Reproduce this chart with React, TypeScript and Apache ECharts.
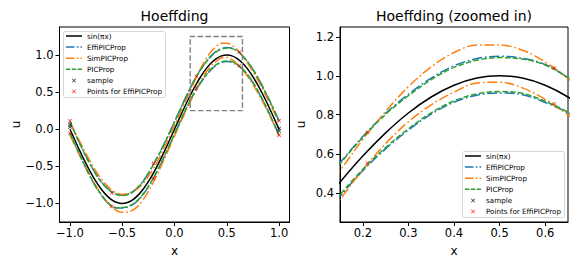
import React, { useEffect, useRef } from 'react';
import * as echarts from 'echarts';

// x grid shared by all curves
const xs = [
  -1.0, -0.95, -0.9, -0.85, -0.8, -0.75, -0.7, -0.65, -0.6, -0.55, -0.5,
  -0.45, -0.4, -0.35, -0.3, -0.25, -0.2, -0.15, -0.1, -0.05, 0.0,
  0.05, 0.1, 0.15, 0.2, 0.25, 0.3, 0.35, 0.4, 0.45, 0.5,
  0.55, 0.6, 0.65, 0.7, 0.75, 0.8, 0.85, 0.9, 0.95, 1.0,
];

const sinVals = [
  0.0, -0.156, -0.309, -0.454, -0.588, -0.707, -0.809, -0.891, -0.951, -0.988, -1.0,
  -0.988, -0.951, -0.891, -0.809, -0.707, -0.588, -0.454, -0.309, -0.156, 0.0,
  0.156, 0.309, 0.454, 0.588, 0.707, 0.809, 0.891, 0.951, 0.988, 1.0,
  0.988, 0.951, 0.891, 0.809, 0.707, 0.588, 0.454, 0.309, 0.156, 0.0,
];

const effiUpper = [
  0.105, -0.056, -0.209, -0.354, -0.488, -0.607, -0.709, -0.786, -0.841, -0.878, -0.888,
  -0.878, -0.841, -0.781, -0.699, -0.592, -0.468, -0.339, -0.199, -0.051, 0.1,
  0.256, 0.409, 0.554, 0.688, 0.807, 0.905, 0.988, 1.051, 1.088, 1.1,
  1.09, 1.058, 0.991, 0.909, 0.807, 0.688, 0.554, 0.414, 0.266, 0.115,
];

const effiLower = [
  -0.06, -0.216, -0.371, -0.519, -0.658, -0.782, -0.889, -0.976, -1.041, -1.063, -1.06,
  -1.048, -1.016, -0.961, -0.879, -0.777, -0.658, -0.524, -0.379, -0.226, -0.07,
  0.086, 0.239, 0.382, 0.513, 0.625, 0.721, 0.803, 0.864, 0.9, 0.912,
  0.903, 0.863, 0.809, 0.729, 0.627, 0.508, 0.374, 0.229, 0.076, -0.08,
];

const simUpper = [
  0.09, -0.046, -0.184, -0.319, -0.448, -0.567, -0.669, -0.756, -0.821, -0.863, -0.88,
  -0.868, -0.841, -0.796, -0.729, -0.637, -0.528, -0.399, -0.259, -0.106, 0.05,
  0.206, 0.364, 0.514, 0.673, 0.817, 0.944, 1.046, 1.119, 1.158, 1.158,
  1.131, 1.071, 0.986, 0.889, 0.777, 0.653, 0.519, 0.379, 0.236, 0.09,
];

const simLower = [
  -0.08, -0.226, -0.369, -0.509, -0.643, -0.767, -0.879, -0.971, -1.046, -1.098, -1.12,
  -1.116, -1.091, -1.036, -0.949, -0.837, -0.708, -0.564, -0.409, -0.251, -0.09,
  0.066, 0.219, 0.366, 0.518, 0.652, 0.764, 0.851, 0.916, 0.963, 0.967,
  0.938, 0.879, 0.799, 0.709, 0.602, 0.483, 0.354, 0.214, 0.066, -0.09,
];

const picUpper = [
  0.1, -0.06, -0.213, -0.358, -0.492, -0.611, -0.713, -0.79, -0.846, -0.883, -0.893,
  -0.883, -0.846, -0.786, -0.704, -0.597, -0.473, -0.344, -0.204, -0.056, 0.095,
  0.251, 0.404, 0.549, 0.684, 0.802, 0.898, 0.98, 1.043, 1.08, 1.093,
  1.086, 1.055, 0.99, 0.908, 0.806, 0.687, 0.553, 0.412, 0.263, 0.11,
];

const picLower = [
  -0.054, -0.21, -0.365, -0.513, -0.652, -0.776, -0.883, -0.97, -1.035, -1.057, -1.054,
  -1.042, -1.01, -0.955, -0.873, -0.771, -0.652, -0.518, -0.373, -0.22, -0.064,
  0.092, 0.245, 0.39, 0.52, 0.632, 0.728, 0.81, 0.871, 0.907, 0.919,
  0.91, 0.869, 0.813, 0.734, 0.632, 0.513, 0.379, 0.234, 0.081, -0.075,
];

const sampleX = [-1.0, -1.0, 1.0, 1.0];
const sampleY = [0.06, 0.03, 0.01, -0.02];

const pointsX = [-1.0, -1.0, -0.6, -0.6, -0.2, -0.2, 0.21, 0.21, 0.62, 0.62, 1.0, 1.0];
const pointsY = [0.115, -0.055, -0.86, -1.04, -0.46, -0.66, 0.71, 0.553, 1.04, 0.856, 0.115, -0.08];

const boxX = [0.15, 0.65, 0.65, 0.15, 0.15];
const boxY = [0.25, 0.25, 1.25, 1.25, 0.25];

const leftXTicks = [-1.0, -0.5, 0.0, 0.5, 1.0];
const leftYTicks = [-1.0, -0.5, 0.0, 0.5, 1.0];
const rightXTicks = [0.2, 0.3, 0.4, 0.5, 0.6];
const rightYTicks = [0.4, 0.6, 0.8, 1.0, 1.2];

const legendNames = ['sin(πx)', 'EffiPICProp', 'SimPICProp', 'PICProp', 'sample', 'Points for EffiPICProp'];

const FONT = 'DejaVu Sans';
const BLUE = '#1f77b4';
const ORANGE = '#ff7f0e';
const GREEN = '#2ca02c';
const DASHDOT = [10, 2.8, 1.7, 2.8];
const DASHED = [5.5, 2.4];
const XMARK = 'path://M0,1.3L1.3,0L5,3.7L8.7,0L10,1.3L6.3,5L10,8.7L8.7,10L5,6.3L1.3,10L0,8.7L3.7,5Z';

// legend icons drawn as filled strips (line style samples)
const ICON_SOLID = 'path://M0,0h16v1.5h-16z';
const ICON_DASHDOT = 'path://M0,0h8.5v1.5h-8.5zM10.8,0h1.6v1.5h-1.6zM14.5,0h1.5v1.5h-1.5z';
const ICON_DASHED = 'path://M0,0h4.4v1.5h-4.4zM5.8,0h4.4v1.5h-4.4zM11.6,0h4.4v1.5h-4.4z';

const pair = (a: number[], b: number[]) => a.map((v, i) => [v, b[i]]);
const fmt = (v: number) => (v < 0 ? '\u2212' : '') + Math.abs(v).toFixed(1);

function lineSeries(name: string, ys: number[], color: string, type: any, g: number) {
  return {
    type: 'line',
    name,
    xAxisIndex: g,
    yAxisIndex: g,
    data: pair(xs, ys),
    smooth: 0.35,
    symbol: 'none',
    clip: true,
    lineStyle: { color, width: 1.5, type },
    itemStyle: { color },
    emphasis: { disabled: true },
  };
}

function buildSeries(g: number) {
  const s: any[] = [
    lineSeries('sin(πx)', sinVals, '#000000', 'solid', g),
    lineSeries('EffiPICProp', effiUpper, BLUE, DASHDOT, g),
    lineSeries('EffiPICProp', effiLower, BLUE, DASHDOT, g),
    lineSeries('SimPICProp', simUpper, ORANGE, DASHDOT, g),
    lineSeries('SimPICProp', simLower, ORANGE, DASHDOT, g),
    lineSeries('PICProp', picUpper, GREEN, DASHED, g),
    lineSeries('PICProp', picLower, GREEN, DASHED, g),
    {
      type: 'scatter', name: 'sample', xAxisIndex: g, yAxisIndex: g,
      data: pair(sampleX, sampleY), symbol: XMARK, symbolSize: 4, clip: true,
      itemStyle: { color: '#000000' }, emphasis: { disabled: true }, z: 5,
    },
    {
      type: 'scatter', name: 'Points for EffiPICProp', xAxisIndex: g, yAxisIndex: g,
      data: pair(pointsX, pointsY), symbol: XMARK, symbolSize: 4, clip: true,
      itemStyle: { color: '#ff0000' }, emphasis: { disabled: true }, z: 5,
    },
  ];
  if (g === 0) {
    s.push({
      type: 'line', name: 'box', xAxisIndex: 0, yAxisIndex: 0,
      data: pair(boxX, boxY), symbol: 'none',
      lineStyle: { color: '#808080', width: 1.4, type: DASHED },
      emphasis: { disabled: true }, z: 4,
    });
  }
  return s;
}

function xAxisCfg(g: number, min: number, max: number, ticks: number[]) {
  return {
    type: 'value', gridIndex: g, min, max,
    name: 'x', nameLocation: 'middle', nameGap: 23,
    nameTextStyle: { fontFamily: FONT, fontSize: 12, color: '#000' },
    splitLine: { show: false },
    axisLine: { show: true, onZero: false, lineStyle: { color: '#000', width: 1 } },
    axisTick: { show: true, customValues: ticks, length: 4, lineStyle: { color: '#000', width: 1 } },
    axisLabel: { customValues: ticks, formatter: fmt, margin: 5, fontFamily: FONT, fontSize: 11.5, color: '#000' },
  };
}

function yAxisCfg(g: number, min: number, max: number, ticks: number[], gap: number) {
  return {
    type: 'value', gridIndex: g, min, max,
    name: 'u', nameLocation: 'middle', nameGap: gap, nameRotate: 90,
    nameTextStyle: { fontFamily: FONT, fontSize: 12, color: '#000' },
    splitLine: { show: false },
    axisLine: { show: true, onZero: false, lineStyle: { color: '#000', width: 1 } },
    axisTick: { show: true, customValues: ticks, length: 4, lineStyle: { color: '#000', width: 1 } },
    axisLabel: { customValues: ticks, formatter: fmt, margin: 6, fontFamily: FONT, fontSize: 11.5, color: '#000' },
  };
}

function legendCfg(left: number, top: number) {
  return {
    orient: 'vertical', left, top,
    data: [
      { name: legendNames[0], icon: ICON_SOLID },
      { name: legendNames[1], icon: ICON_DASHDOT },
      { name: legendNames[2], icon: ICON_DASHDOT },
      { name: legendNames[3], icon: ICON_DASHED },
      { name: legendNames[4] },
      { name: legendNames[5] },
    ],
    selectedMode: false,
    itemWidth: 16, itemHeight: 4, itemGap: 4.1,
    padding: [1, 3.5, 2.5, 2.5],
    backgroundColor: 'rgba(255,255,255,0.85)',
    borderColor: '#cccccc', borderWidth: 0.8, borderRadius: 2,
    textStyle: { fontFamily: FONT, fontSize: 7.2, lineHeight: 7, color: '#000' },
  };
}

export default function App() {
  const ref = useRef<HTMLDivElement>(null);
  useEffect(() => {
    const chart = echarts.init(ref.current!, null, { renderer: 'svg' });
    const option: any = {
      animation: false,
      backgroundColor: '#ffffff',
      title: [
        { text: 'Hoeffding', left: 174.5, top: 9, textAlign: 'center', padding: 0,
          textStyle: { fontFamily: FONT, fontSize: 14, fontWeight: 'normal', color: '#000' } },
        { text: 'Hoeffding (zoomed in)', left: 454, top: 9, textAlign: 'center', padding: 0,
          textStyle: { fontFamily: FONT, fontSize: 14, fontWeight: 'normal', color: '#000' } },
      ],
      grid: [
        { left: 59.5, top: 27, width: 230, height: 195, show: true, borderColor: '#000', borderWidth: 1, backgroundColor: 'transparent' },
        { left: 340, top: 27, width: 228, height: 195, show: true, borderColor: '#000', borderWidth: 1, backgroundColor: 'transparent' },
      ],
      xAxis: [
        xAxisCfg(0, -1.1, 1.1, leftXTicks),
        xAxisCfg(1, 0.15, 0.65, rightXTicks),
      ],
      yAxis: [
        yAxisCfg(0, -1.25, 1.377, leftYTicks, 38),
        yAxisCfg(1, 0.25, 1.25, rightYTicks, 33),
      ],
      legend: [legendCfg(63.5, 31.5), legendCfg(462.5, 151.5)],
      series: [...buildSeries(0), ...buildSeries(1)],
    };
    chart.setOption(option);
    return () => chart.dispose();
  }, []);
  return <div ref={ref} style={{ position: 'fixed', left: 0, top: 0, width: 581, height: 264 }} />;
}
